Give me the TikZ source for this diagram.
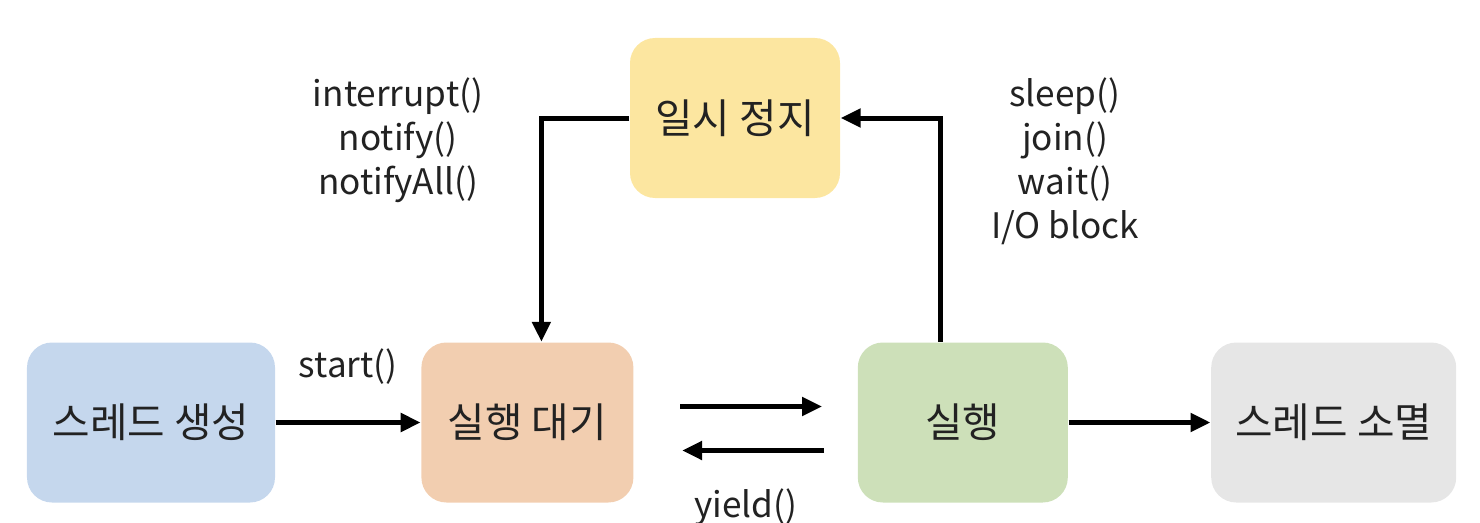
\documentclass[tikz,border=0pt]{standalone}
\usepackage{fontspec}
\setmainfont{Noto Sans CJK KR}
\usepackage{tikz}
\usetikzlibrary{shapes, arrows.meta, positioning}
\definecolor{stblue}{HTML}{C5D7ED}
\definecolor{stpeach}{HTML}{F2CEB0}
\definecolor{stgreen}{HTML}{CDE0B9}
\definecolor{stgray}{HTML}{E6E6E6}
\definecolor{styellow}{HTML}{FCE6A0}
\definecolor{sttext}{HTML}{222222}
\tikzset{
  state/.style={rounded corners=0.25cm, minimum height=1.6cm, text=sttext, font=\fontsize{11.6}{14}\selectfont},
  lbl/.style={text=sttext, align=center, font=\fontsize{10}{12.5}\selectfont},
  flow/.style={-{Triangle[length=0.2cm, width=0.18cm]}, line width=0.05cm, black},
}

\begin{document}
\begin{tikzpicture}
\useasboundingbox (0,0) rectangle (14.8,5.22);
\node[state, fill=stblue,   minimum width=2.48cm] (create) at (1.51,0.995) {스레드 생성};
\node[state, fill=stpeach,  minimum width=2.12cm, right=1.45cm of create] (ready) {실행 대기};
\node[state, fill=stgreen,  minimum width=2.10cm, right=2.23cm of ready] (run) {실행};
\node[state, fill=stgray,   minimum width=2.45cm, right=1.42cm of run] (dead) {스레드 소멸};
\node[state, fill=styellow, minimum width=2.10cm] (pause) at (7.35,4.04) {일시 정지};
\node[lbl] (wakeup) at (3.98,3.82) {interrupt()\\notify()\\notifyAll()};
\node[lbl] (block) at (10.65,3.61) {sleep()\\join()\\wait()\\I/O block};
\draw[flow] (create) -- node[lbl, above=0.24cm] (startlbl) {start()} (ready);
\draw[flow, shorten <=0.46cm, shorten >=0.35cm] ([yshift=0.16cm]ready.east) -- ([yshift=0.16cm]run.west);
\draw[flow, shorten <=0.33cm, shorten >=0.48cm] ([yshift=-0.28cm]run.west) -- node[lbl, below=0.24cm] (yieldlbl) {yield()} ([yshift=-0.28cm]ready.east);
\draw[flow] (run) -- (dead);
\draw[flow] ([xshift=-0.22cm]run.north) |- (pause.east);
\draw[flow] (pause.west) -| ([xshift=0.14cm]ready.north);
\end{tikzpicture}
\end{document}
